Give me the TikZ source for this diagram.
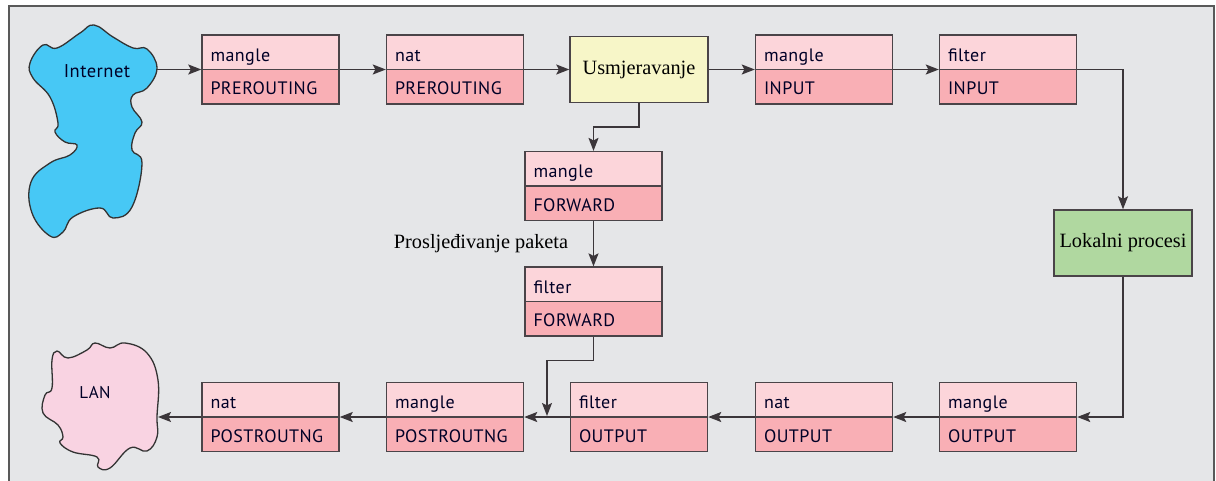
\documentclass[tikz,border=0pt]{standalone}
\usepackage{fontspec}
\setmainfont{Liberation Serif}
\newfontfamily\dinfont[LetterSpace=2.5]{PT Sans}
\usetikzlibrary{shapes.multipart,arrows.meta}
\definecolor{bgc}{HTML}{E5E6E8}
\definecolor{edgec}{HTML}{4A4448}
\definecolor{topc}{HTML}{FCD5DA}
\definecolor{botc}{HTML}{F9AFB5}
\definecolor{bluec}{HTML}{47C8F5}
\definecolor{lanc}{HTML}{F9D3E2}
\definecolor{yelc}{HTML}{F7F6C8}
\definecolor{grnc}{HTML}{B0D8A0}
\newcommand{\pstruta}{\rule[-7.5pt]{0pt}{33pt}}
\newcommand{\pstrutb}{\rule[-8.7pt]{0pt}{33pt}}
\newcommand{\pbox}[2]{\pstruta #1\nodepart{two}\pstrutb #2}
\tikzset{
  rbox/.style={rectangle split,rectangle split parts=2,anchor=text split,
    rectangle split part fill={topc,botc},draw=edgec,line width=1.4pt,
    inner xsep=8.5pt,inner ysep=0pt,text width=120pt,align=left,
    font=\dinfont\fontsize{18}{20}\selectfont,text=black!85!blue},
  sbox/.style={rectangle,draw=edgec,line width=1.4pt,minimum width=138pt,
    minimum height=66pt,inner sep=0pt,font=\fontsize{20.3}{24}\selectfont},
  blob/.style={draw=black!80,line width=1.3pt},
  blobtext/.style={inner sep=0pt,font=\dinfont\fontsize{18.5}{20}\selectfont,text=black!85!blue},
  conn/.style={draw=edgec!80!black,line width=1.5pt,-{Stealth[length=13pt,width=10pt,inset=2.5pt]}},
}
\begin{document}
\begin{tikzpicture}[x=1pt,y=-1pt]
\useasboundingbox (0,0) rectangle (1216,480);
\clip (0,0) rectangle (1216,480);
\fill[white] (0,0) rectangle (1216,480);
\draw[fill=bgc,draw=black!65,line width=1.3pt] (9,6) rectangle (1214,495);
% clouds
\draw[blob,fill=bluec] plot[smooth cycle,tension=.7] coordinates {
 (157,68) (147,49) (133,48) (113,37) (94,25) (80,33) (57,48) (43,45) (30,63) (33,78) (50,97)
 (58,123) (55,132) (65,142) (77,145) (70,155) (50,163) (31,182) (32,213) (50,236) (63,232)
 (73,217) (100,208) (113,218) (132,207) (142,163) (132,150) (135,133) (142,122) (132,107)
 (133,95) (147,88)};
\draw[blob,fill=lanc] plot[smooth cycle,tension=.7] coordinates {
 (125,343) (110,348) (95,343) (87,350) (68,358) (57,351) (52,360) (52,388) (45,395) (43,413)
 (58,425) (63,437) (60,443) (73,452) (97,457) (98,467) (110,468) (130,448) (147,451) (157,437)
 (157,417) (158,380) (147,353)};
\node[blobtext] (internet) at (97,71) {Internet};
\node[blobtext,font=\dinfont\fontsize{17}{20}\selectfont] (lan) at (95,393) {LAN};
\coordinate (inetport) at (157,69.5);
\coordinate (lanport) at (158,417);
% top row
\node[rbox] (a1) at (270.5,69.5) {\pbox{mangle}{PREROUTING}};
\node[rbox] (a2) at (455,69.5) {\pbox{nat}{PREROUTING}};
\node[sbox,fill=yelc,minimum height=66pt] (route) at (639,69.5) {Usmjeravanje};
\node[rbox] (a3) at (824,69.5) {\pbox{mangle}{INPUT}};
\node[rbox] (a4) at (1008,69.5) {\pbox{filter}{INPUT}};
% middle
\node[rbox] (f1) at (593.5,186) {\pbox{mangle}{FORWARD}};
\node[rbox] (f2) at (593.5,301.5) {\pbox{filter}{FORWARD}};
\node[sbox,fill=grnc] (local) at (1123,243) {Lokalni procesi};
\node[inner sep=0pt,font=\fontsize{20.3}{24}\selectfont] (fwd) at (481,244) {Prosljeđivanje paketa};
% bottom
\node[rbox] (b1) at (270.5,417) {\pbox{nat}{POSTROUTNG}};
\node[rbox] (b2) at (455,417) {\pbox{mangle}{POSTROUTNG}};
\node[rbox] (b3) at (639,417) {\pbox{filter}{OUTPUT}};
\node[rbox] (b4) at (824,417) {\pbox{nat}{OUTPUT}};
\node[rbox] (b5) at (1008,417) {\pbox{mangle}{OUTPUT}};
% connectors
\draw[conn] (inetport) -- (a1.text split west);
\draw[conn] (a1.text split east) -- (a2.text split west);
\draw[conn] (a2.text split east) -- (route.west);
\draw[conn] (route.east) -- (a3.text split west);
\draw[conn] (a3.text split east) -- (a4.text split west);
\draw[conn] (a4.text split east) -| (local.north);
\draw[conn] (route.south) |- ++(-23,24) -| (f1.north);
\draw[conn] (f1.south) -- (f2.north);
\draw[conn] (local.south) |- (b5.text split east);
\draw[conn] (b5.text split west) -- (b4.text split east);
\draw[conn] (b4.text split west) -- (b3.text split east);
\draw[conn] (b3.text split west) -- (b2.text split east);
\draw[conn] (b2.text split west) -- (b1.text split east);
\draw[conn] (b1.text split west) -- (lanport);
\coordinate (merge) at (547,416);
\draw[conn] (f2.south) |- ++(-46,24) -| (merge);
\end{tikzpicture}
\end{document}
